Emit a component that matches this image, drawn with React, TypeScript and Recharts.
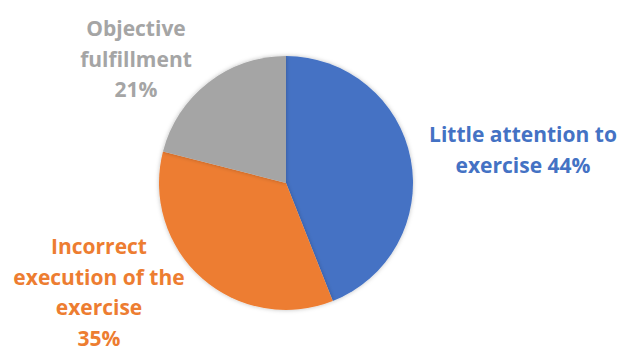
import { Cell, Pie, PieChart } from "recharts";

const categories = [
  "Little attention to exercise",
  "Incorrect execution of the exercise",
  "Objective fulfillment",
];
const shares = [44, 35, 21];
const labelLines = [
  ["Little attention to", "exercise 44%"],
  ["Incorrect", "execution of the", "exercise", "35%"],
  ["Objective", "fulfillment", "21%"],
];
const colors = ["#4472C4", "#ED7D31", "#A5A5A5"];

// where each label block sits, relative to the pie centre (Excel "best fit")
const labelOffsets = [
  { dx: 237, dy: -41 },
  { dx: -187, dy: 71 },
  { dx: -150, dy: -147 },
];

const data = categories.map((name, i) => ({ name, value: shares[i] }));

const LINE_HEIGHT = 30.5;

function renderLabel(props: any) {
  const { cx, cy, index } = props;
  const off = labelOffsets[index];
  const x = cx + off.dx;
  return (
    <text
      x={x}
      y={cy + off.dy}
      textAnchor="middle"
      fill={colors[index]}
      fontFamily="'Open Sans', sans-serif"
      fontWeight={700}
      fontSize={21}
    >
      {labelLines[index].map((line, i) => (
        <tspan key={i} x={x} dy={i === 0 ? 0 : LINE_HEIGHT}>
          {line}
        </tspan>
      ))}
    </text>
  );
}

export default function App() {
  return (
    <div style={{ position: "absolute", left: 0, top: 0, width: 622, height: 352, background: "#fff" }}>
      <PieChart width={622} height={352} margin={{ top: 0, right: 0, bottom: 0, left: 0 }}>
        <defs>
          <filter id="sliceShadow" x="-10%" y="-10%" width="120%" height="120%">
            <feDropShadow dx="0" dy="0" stdDeviation="2" floodColor="#000" floodOpacity="0.25" />
          </filter>
        </defs>
        <Pie
          data={data}
          dataKey="value"
          nameKey="name"
          cx={286}
          cy={183}
          outerRadius={127}
          startAngle={90}
          endAngle={-270}
          stroke="none"
          label={renderLabel}
          labelLine={false}
          isAnimationActive={false}
          style={{ filter: "url(#sliceShadow)" }}
        >
          {data.map((d, i) => (
            <Cell key={d.name} fill={colors[i]} />
          ))}
        </Pie>
      </PieChart>
    </div>
  );
}
